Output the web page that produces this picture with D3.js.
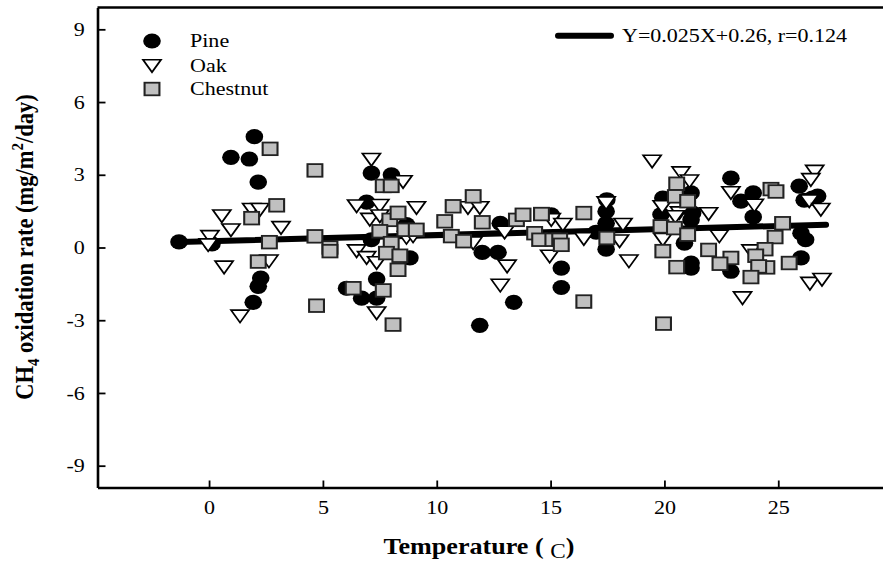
<!DOCTYPE html>
<html><head><meta charset="utf-8">
<script src="https://cdn.jsdelivr.net/npm/d3@7"></script>
<style>body{margin:0;background:#fff}svg{display:block}text{font-family:"Liberation Serif","Times New Roman",serif}</style>
</head><body><svg id="c" width="883" height="566"></svg>
<script>
const pineX=[-1.32,0.13,0.96,1.77,1.99,2.16,2.27,2.16,1.94,6.04,6.7,7.36,7.36,6.92,7.13,8.01,7.13,8.67,8.82,12.0,12.69,12.79,13.38,11.89,15.03,15.47,15.47,17.0,17.47,17.44,17.44,17.44,19.93,19.85,21.17,21.24,21.17,20.88,21.17,21.17,22.92,23.36,23.9,23.9,22.92,25.92,26.14,26.5,26.73,26.0,26.2,26.0];
const pineY=[0.23,0.15,3.72,3.65,4.57,2.70,-1.26,-1.6,-2.26,-1.68,-2.09,-2.09,-1.3,1.87,3.07,3.0,0.32,0.94,-0.43,-0.2,-0.2,1.0,-2.26,-3.21,1.35,-0.85,-1.65,0.63,1.97,1.49,1.0,-0.07,2.04,1.36,2.25,1.42,1.14,0.18,-0.64,-0.85,2.86,1.91,2.25,1.26,-0.98,2.53,1.95,2.04,2.12,0.59,0.32,-0.43];
const oakX=[0.04,-0.04,0.56,0.96,0.66,1.36,1.87,2.24,2.63,3.16,6.48,7.5,7.13,7.06,7.5,6.48,6.92,7.36,7.36,8.52,9.11,8.67,8.96,11.37,11.89,11.6,12.98,13.09,12.79,15.03,15.54,14.96,16.46,17.44,18.03,18.18,18.44,19.46,20.73,21.1,19.9,20.66,20.48,21.94,19.93,22.41,22.92,23.95,23.8,23.43,26.6,26.43,26.36,26.87,26.39,26.92];
const oakY=[0.44,0.1,1.29,0.71,-0.82,-2.84,1.56,1.56,-0.57,0.81,1.7,1.72,3.62,1.15,1.29,-0.15,-0.43,-0.64,-2.71,2.7,1.63,0.4,0.46,1.63,1.63,0.18,0.62,-0.78,-1.57,1.14,0.94,-0.37,0.35,1.83,0.26,0.94,-0.57,3.55,3.07,2.73,1.67,1.42,1.26,1.38,0.32,0.46,2.25,1.73,-0.15,-2.09,3.13,2.79,1.91,1.56,-1.49,-1.33];
const chestX=[2.68,4.65,2.97,1.87,2.65,4.65,5.31,5.31,2.16,4.72,7.65,8.0,7.94,8.3,7.5,8.0,7.79,8.3,8.38,6.33,7.65,8.08,8.6,9.1,10.72,11.6,10.35,12.0,10.64,11.18,13.5,13.79,14.6,14.3,14.52,15.1,15.4,15.47,16.46,16.46,17.47,20.54,20.48,21.02,19.85,20.44,21.02,19.93,21.94,20.54,19.96,24.68,24.9,25.19,24.86,24.42,24.01,24.5,24.14,23.8,25.48,22.92,22.44];
const chestY=[4.07,3.18,1.74,1.21,0.22,0.46,0.0,-0.15,-0.58,-2.4,2.54,2.54,1.14,1.43,0.67,0.18,-0.23,-0.92,-0.34,-1.68,-1.77,-3.18,0.73,0.73,1.7,2.11,1.08,1.04,0.47,0.26,1.14,1.35,1.38,0.59,0.32,0.32,0.32,0.11,1.42,-2.23,0.39,2.63,2.11,1.91,0.87,0.8,0.53,-0.15,-0.1,-0.81,-3.14,2.41,2.31,1.0,0.43,-0.07,-0.34,-0.82,-0.78,-1.22,-0.64,-0.43,-0.67];
const fitX=[-1.3,27.1];
const fitY=[0.23,0.94];
const xTicks=[0,5,10,15,20,25];
const yTicks=[-9,-6,-3,0,3,6,9];
const seriesNames=["Pine","Oak","Chestnut"];
const fitLabel="Y=0.025X+0.26, r=0.124";

const SX=1.16; // horizontal stretch of the original
const svg=d3.select("#c");
const x=d3.scaleLinear().domain([-4.9,29.6]).range([97.5,883]);
const y=d3.scaleLinear().domain([-9.9,9.9]).range([487.5,7.5]);

// top border
svg.append("line").attr("x1",x.range()[0]).attr("x2",883).attr("y1",y.range()[1]).attr("y2",y.range()[1])
  .attr("stroke","#000").attr("stroke-width",2.6);

const fmt=d=>String(d);
const xAxis=svg.append("g").attr("transform",`translate(0,${y.range()[0]})`)
  .call(d3.axisBottom(x).tickValues(xTicks).tickFormat(fmt).tickSizeInner(-7).tickSizeOuter(0).tickPadding(13));
const yAxis=svg.append("g").attr("transform",`translate(${x.range()[0]},0)`)
  .call(d3.axisLeft(y).tickValues(yTicks).tickFormat(fmt).tickSizeInner(-8).tickSizeOuter(0).tickPadding(11));
[xAxis,yAxis].forEach(a=>{
  a.select(".domain").attr("stroke","#000").attr("stroke-width",2.6);
  a.selectAll(".tick line").attr("stroke","#000").attr("stroke-width",1.8);
  a.selectAll(".tick text").attr("font-family","Liberation Serif").attr("font-size",19).attr("fill","#000");
});
xAxis.selectAll(".tick text").attr("transform",`scale(${SX},1)`);
yAxis.selectAll(".tick text").attr("transform",`scale(${SX},1)`);

// fit line
svg.append("path").datum(fitX.map((v,i)=>[v,fitY[i]]))
  .attr("d",d3.line().x(d=>x(d[0])).y(d=>y(d[1])))
  .attr("stroke","#000").attr("stroke-width",6).attr("stroke-linecap","round").attr("fill","none");

const tri=(w,h)=>`M${-w/2},${-h/2}L${w/2},${-h/2}L0,${h/2}Z`;
function drawPine(g){g.append("circle").attr("r",7.6).attr("fill","#000");}
function drawOak(g){g.append("path").attr("d",tri(15.5,12.5)).attr("fill","#fff").attr("stroke","#000").attr("stroke-width",1.6);}
function drawChest(g){g.append("rect").attr("x",-6.4).attr("y",-6.3).attr("width",12.8).attr("height",12.6)
  .attr("fill","#c0c0c0").attr("stroke","#222").attr("stroke-width",1.8);}

function plot(xs,ys,fn){
  xs.forEach((v,i)=>{
    const g=svg.append("g").attr("transform",`translate(${x(v)},${y(ys[i])}) scale(${SX},1)`);
    fn(g);
  });
}
plot(pineX,pineY,drawPine);
plot(oakX,oakY,drawOak);
plot(chestX,chestY,drawChest);

// legend
const drawers=[drawPine,drawOak,drawChest];
const legY=[41,66,89];
seriesNames.forEach((n,i)=>{
  const g=svg.append("g").attr("transform",`translate(152,${legY[i]}) scale(${SX},1)`);
  drawers[i](g);
  svg.append("text").attr("transform",`translate(190,${legY[i]+6}) scale(${SX},1)`)
    .attr("font-size",19).text(n);
});
svg.append("line").attr("x1",558).attr("x2",611).attr("y1",35.7).attr("y2",35.7)
  .attr("stroke","#000").attr("stroke-width",6).attr("stroke-linecap","round");
svg.append("text").attr("transform",`translate(622,42) scale(${SX},1)`).attr("font-size",19).text(fitLabel);

// y title
const yt=svg.append("text").attr("transform",`translate(33,247) scale(${SX},1) rotate(-90)`)
  .attr("text-anchor","middle").attr("font-size",22.5).attr("font-weight","bold");
yt.append("tspan").text("CH");
yt.append("tspan").attr("font-size",15).attr("dy",5).text("4");
yt.append("tspan").attr("dy",-5).text(" oxidation rate (mg/m");
yt.append("tspan").attr("font-size",15).attr("dy",-9).text("2");
yt.append("tspan").attr("dy",9).text("/day)");

// x title
const xt=svg.append("text").attr("transform",`translate(383.5,554) scale(${SX},1)`)
  .attr("font-size",22.5).attr("font-weight","bold");
xt.append("tspan").text("Temperature ( ");
xt.append("tspan").attr("font-weight","normal").attr("font-size",20).attr("dy",4).text("C");
xt.append("tspan").attr("dy",-4).text(")");
</script></body></html>
